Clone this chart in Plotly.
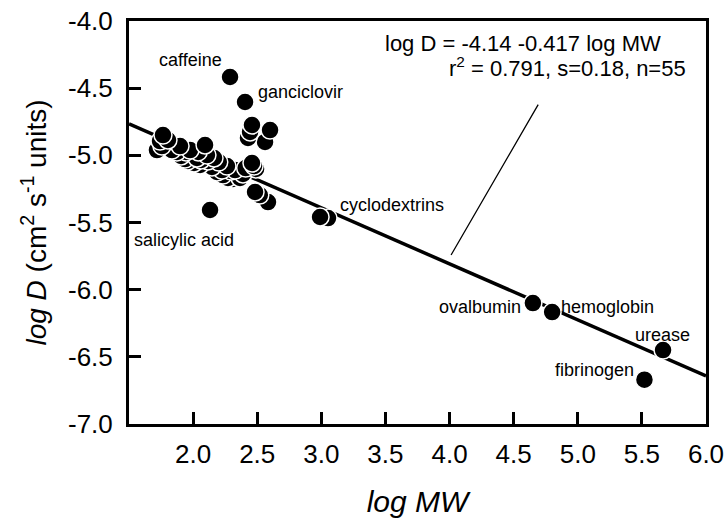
import numpy as np
import plotly.graph_objects as go

# ---- data (log MW, log D) ----
log_mw = [1.765, 1.742, 1.757, 1.718, 1.898, 1.874, 1.906, 1.937, 1.976, 1.960,
          2.007, 2.054, 2.093, 2.108, 2.116, 2.147, 2.186, 2.233, 2.264, 2.272,
          2.311, 2.366, 2.389, 2.459, 2.475, 2.491, 2.483, 2.584, 2.520, 2.459,
          2.428, 2.444, 2.600, 2.561, 1.804, 1.835, 2.030, 2.200, 2.327, 2.410,
          2.163, 2.040, 2.288, 2.405, 2.132, 2.990, 3.052, 4.650, 4.800, 5.665,
          5.520, 1.945, 2.225, 2.062, 2.296]
log_d = [-4.849, -4.894, -4.931, -4.961, -4.931, -4.975, -5.005, -5.028, -4.961, -5.042,
         -5.057, -5.072, -4.923, -4.998, -5.042, -5.087, -5.124, -5.147, -5.080, -5.169,
         -5.176, -5.169, -5.139, -5.057, -5.080, -5.102, -5.273, -5.348, -5.296, -4.774,
         -4.871, -4.826, -4.812, -4.901, -4.886, -4.961, -5.020, -5.050, -5.110, -5.095,
         -5.020, -4.975, -4.417, -4.603, -5.407, -5.459, -5.467, -6.100, -6.167, -6.450,
         -6.670, -4.975, -5.110, -5.035, -5.117]

# regression: log D = a + b log MW
fit_a = -4.14
fit_b = -0.417
fit_x = [1.5, 6.0]

label_text = ["caffeine", "ganciclovir", "salicylic acid", "cyclodextrins",
              "ovalbumin", "hemoglobin", "urease", "fibrinogen"]
label_x = [1.976, 2.84, 1.93, 3.55, 4.24, 5.23, 5.66, 5.13]
label_y = [-4.29, -4.53, -5.63, -5.37, -6.13, -6.13, -6.34, -6.60]

eq_line1 = "log D = -4.14 -0.417 log MW"
eq_line2 = "r<sup>2</sup> = 0.791, s=0.18, n=55"

x_ticks = [2.0, 2.5, 3.0, 3.5, 4.0, 4.5, 5.0, 5.5, 6.0]
x_ticktext = ["2.0", "2.5", "3.0", "3.5", "4.0", "4.5", "5.0", "5.5", "6.0"]
y_ticks = [-7.0, -6.5, -6.0, -5.5, -5.0, -4.5, -4.0]
y_ticktext = ["-7.0", "-6.5", "-6.0", "-5.5", "-5.0", "-4.5", "-4.0"]

FONT = "Liberation Sans, Arial, sans-serif"

# draw lower points first so higher ones sit on top
order = np.argsort(log_d)
xs = np.array(log_mw)[order]
ys = np.array(log_d)[order]

fig = go.Figure()
fig.add_trace(go.Scatter(
    x=fit_x, y=[fit_a + fit_b * v for v in fit_x], mode="lines",
    line=dict(color="black", width=3.5), hoverinfo="skip", showlegend=False))
fig.add_trace(go.Scatter(
    x=xs, y=ys, mode="markers",
    marker=dict(size=18, color="black", line=dict(color="white", width=1.5)),
    showlegend=False))

for t, x, y in zip(label_text, label_x, label_y):
    fig.add_annotation(x=x, y=y, text=t, showarrow=False,
                       font=dict(family=FONT, size=18, color="black"))

fig.add_annotation(x=3.48, y=-4.165, text=eq_line1, showarrow=False, xanchor="left",
                   font=dict(family=FONT, size=22, color="black"))
fig.add_annotation(x=5.86, y=-4.345, text=eq_line2, showarrow=False, xanchor="right",
                   font=dict(family=FONT, size=22, color="black"))
# pointer from equation to the fit line
fig.add_annotation(x=4.012, y=-5.742, ax=4.698, ay=-4.611, axref="x", ayref="y",
                   text="", showarrow=True, arrowhead=0, arrowwidth=1.3, arrowcolor="black")

axis_common = dict(showline=True, linecolor="black", linewidth=3, mirror=True,
                   ticks="inside", ticklen=12, tickwidth=2.5, tickcolor="black",
                   showgrid=False, zeroline=False, automargin=False,
                   tickfont=dict(family=FONT, size=26, color="black"))

fig.update_xaxes(range=[1.5, 6.0], tickvals=x_ticks, ticktext=x_ticktext,
                 ticklabelstandoff=5,
                 title=dict(text="<i>log MW</i>", font=dict(family=FONT, size=30, color="black"),
                            standoff=23),
                 **axis_common)
fig.update_yaxes(range=[-7.0, -4.0], tickvals=y_ticks, ticktext=y_ticktext,
                 ticklabelstandoff=8,
                 title=dict(text="<i>log D</i> (cm<sup>2</sup> s<sup>-1</sup> units)",
                            font=dict(family=FONT, size=28, color="black"), standoff=14),
                 **axis_common)

fig.update_layout(width=727, height=519, plot_bgcolor="white", paper_bgcolor="white",
                  margin=dict(l=129, r=21, t=21, b=95), showlegend=False)

fig.write_html("out.html", config={"displayModeBar": False},
               post_script="document.body.style.margin='0px';")
